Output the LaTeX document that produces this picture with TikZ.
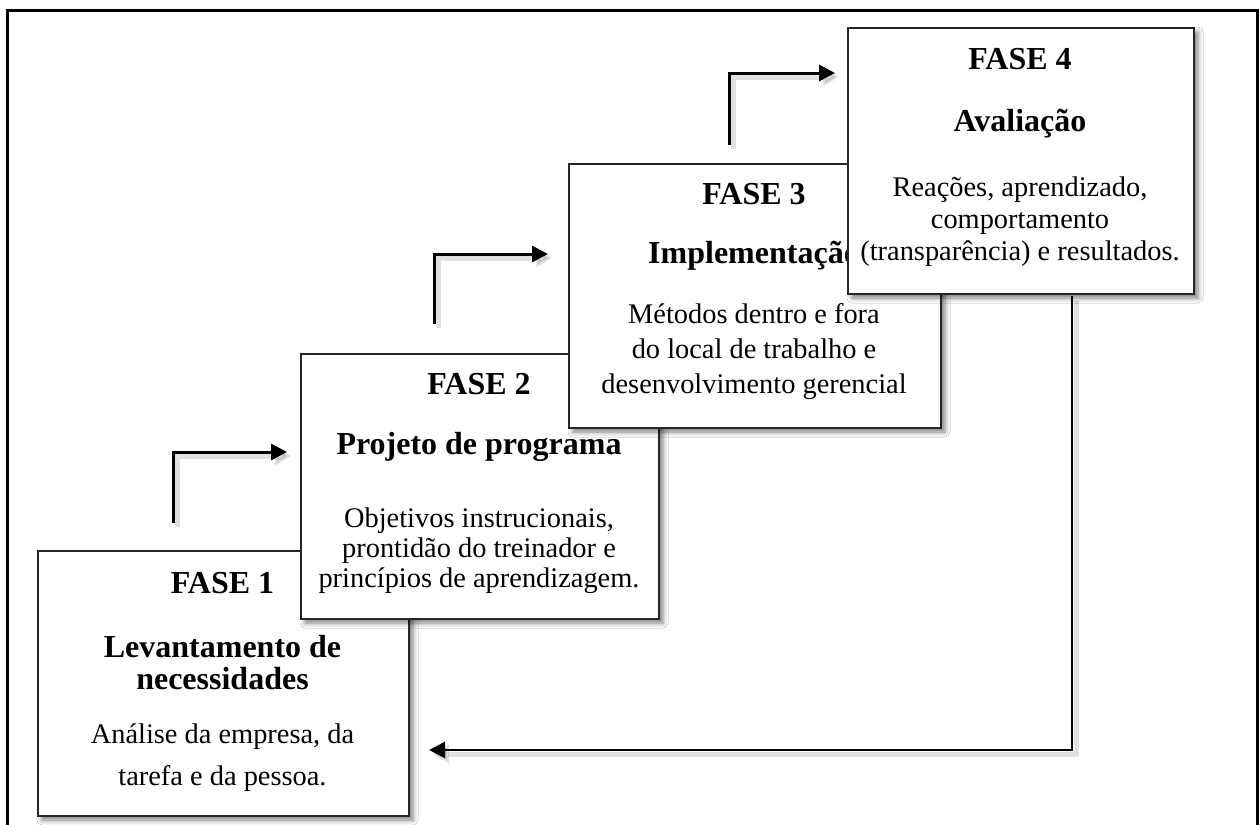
\documentclass[tikz,border=0pt]{standalone}
\usepackage{fontspec}
\setmainfont{Liberation Serif}
\usetikzlibrary{arrows.meta,shadows.blur}

\tikzset{
  box/.style={draw=black!85, line width=1pt, fill=white, anchor=north west, inner sep=0pt,
    blur shadow={shadow xshift=2pt, shadow yshift=-2pt, shadow blur radius=2.5pt, shadow opacity=50}},
  head/.style={anchor=base, font=\fontsize{16}{19}\selectfont\bfseries, inner sep=0pt},
  body/.style={anchor=base, font=\fontsize{14.2}{16}\selectfont, inner sep=0pt},
  flow/.style={line width=1.5pt, -{Triangle[length=8pt,width=8pt]}},
  flowshadow/.style={line width=2.5pt, black, opacity=0.12, -{Triangle[length=8pt,width=9pt]}},
  frame/.style={line width=1.5pt, black},
}

\begin{document}
\begin{tikzpicture}[x=0.5pt,y=-0.5pt]
\useasboundingbox (0,0) rectangle (1259,825);
\clip (0,0) rectangle (1259,825);
\fill[white] (0,0) rectangle (1259,825);

% outer frame (open at the bottom)
\coordinate (frBL) at (7,840);
\coordinate (frTL) at (7,10);
\coordinate (frTR) at (1257,10);
\coordinate (frBR) at (1257,840);
\draw[frame] (frBL) -- (frTL) -- (frTR) -- (frBR);

% step arrows
\coordinate (a1s) at (173,523);
\coordinate (a1c) at (173,452);
\coordinate (a1e) at (287,452);
\coordinate (a2s) at (434,324);
\coordinate (a2c) at (434,254);
\coordinate (a2e) at (548,254);
\coordinate (a3s) at (729,145);
\coordinate (a3c) at (729,73);
\coordinate (a3e) at (835,73);

\foreach \s/\c/\e in {a1s/a1c/a1e,a2s/a2c/a2e,a3s/a3c/a3e}{
  \draw[flowshadow] ([xshift=2pt,yshift=-2pt]\s) -- ([xshift=2pt,yshift=-2pt]\c) -- ([xshift=2pt,yshift=-2pt]\e);
  \draw[flow] (\s) -- (\c) -- (\e);
}

% boxes
\node[box, minimum width=185.5pt, minimum height=132.5pt] (b1) at (37,550) {};
\node[head] (b1t) at (222.5,593) {FASE 1};
\node[head] (b1h1) at (222.5,657) {Levantamento de};
\node[head] (b1h2) at (222.5,689) {necessidades};
\node[body] (b1d1) at (222.5,743) {Análise da empresa, da};
\node[body] (b1d2) at (222.5,785) {tarefa e da pessoa.};

\node[box, minimum width=179pt, minimum height=132.5pt] (b2) at (300,353) {};
\node[head] (b2t) at (479,394) {FASE 2};
\node[head] (b2h) at (479,454) {Projeto de programa};
\node[body] (b2d1) at (479,527) {Objetivos instrucionais,};
\node[body] (b2d2) at (479,557) {prontidão do treinador e};
\node[body] (b2d3) at (479,587) {princípios de aprendizagem.};

\node[box, minimum width=186pt, minimum height=132pt] (b3) at (568,163) {};
\node[head] (b3t) at (754,204) {FASE 3};
\node[head] (b3h) at (754,263) {Implementação};
\node[body] (b3d1) at (754,323) {Métodos dentro e fora};
\node[body] (b3d2) at (754,358) {do local de trabalho e};
\node[body] (b3d3) at (754,393) {desenvolvimento gerencial};

\node[box, minimum width=173pt, minimum height=133pt] (b4) at (847,27) {};
\node[head] (b4t) at (1020,69) {FASE 4};
\node[head] (b4h) at (1020,131) {Avaliação};
\node[body] (b4d1) at (1020,196) {Reações, aprendizado,};
\node[body] (b4d2) at (1020,228) {comportamento};
\node[body] (b4d3) at (1020,260) {(transparência) e resultados.};

% feedback arrow
\coordinate (fbs) at (1072,296);
\coordinate (fbc) at (1072,750);
\coordinate (fbe) at (429,750);
\draw[flowshadow] ([xshift=2pt,yshift=-2pt]fbs) -- ([xshift=2pt,yshift=-2pt]fbc) -- ([xshift=2pt,yshift=-2pt]fbe);
\draw[flow, line width=1.3pt] (fbs) -- (fbc) -- (fbe);
\end{tikzpicture}
\end{document}
